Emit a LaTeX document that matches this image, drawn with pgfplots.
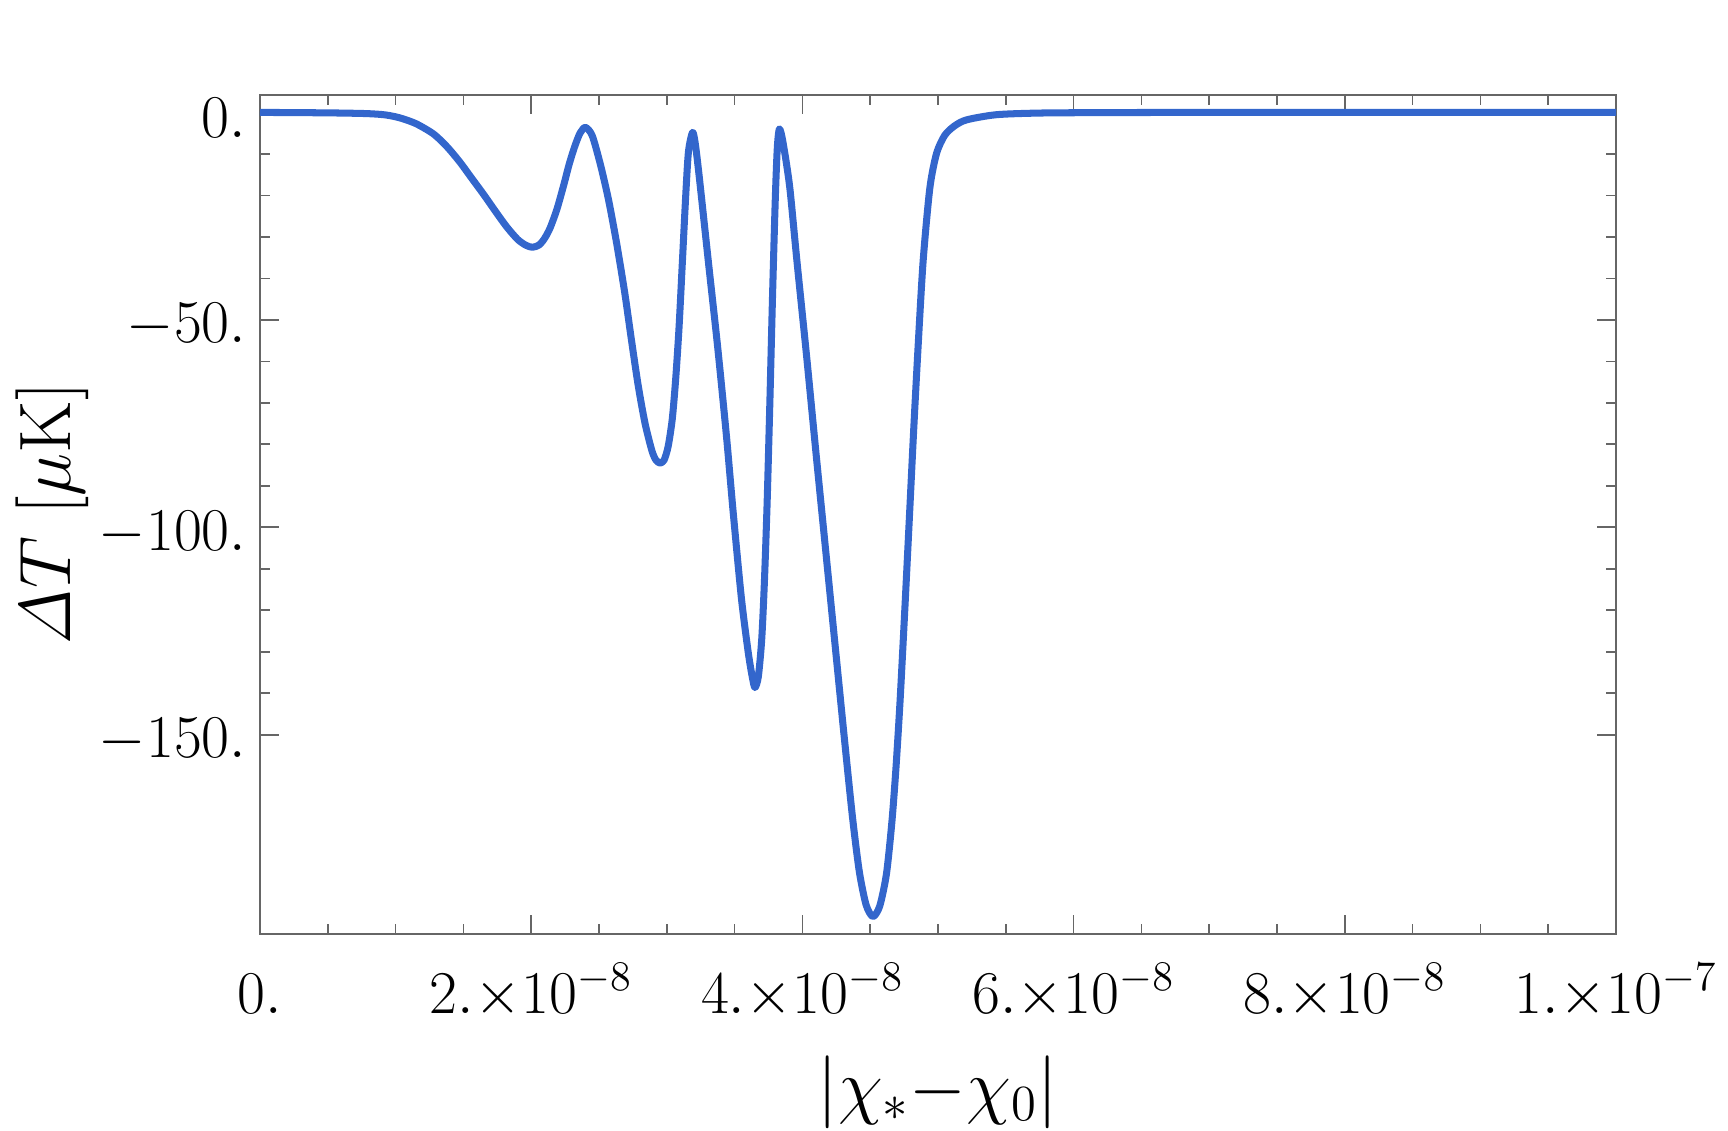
\documentclass[border=0pt]{standalone}
\usepackage{pgfplots}
\pgfplotsset{compat=1.18}

\definecolor{curveblue}{RGB}{51,102,204}
\definecolor{framegray}{RGB}{102,102,102}

\begin{document}
\begin{tikzpicture}
\begin{axis}[
    name=ax,
    scale only axis,
    width=13.56cm, height=8.39cm,
    xmin=0, xmax=1e-7,
    ymin=-198, ymax=4.2,
    axis line style={framegray, line width=0.6pt},
    every tick/.style={framegray, line width=0.5pt},
    tick align=inside,
    major tick length=0.19cm,
    minor tick length=0.10cm,
    scaled x ticks=false,
    xtick={0,2e-8,4e-8,6e-8,8e-8,1e-7},
    xticklabels={$0.$, $2.{\times}10^{-8}$, $4.{\times}10^{-8}$, $6.{\times}10^{-8}$, $8.{\times}10^{-8}$, $1.{\times}10^{-7}$},
    minor x tick num=3,
    ytick={-150,-100,-50,0},
    yticklabels={$-150.$, $-100.$, $-50.$, $0.$},
    minor y tick num=4,
    tick label style={font=\fontsize{16.5}{20}\selectfont},
    xticklabel style={anchor=base, yshift=-0.79cm},
    yticklabel style={anchor=east, inner sep=0pt, xshift=-0.13cm, yshift=-0.06cm},
    every axis x label/.style={at={(axis description cs:0.5,-0.2098)}, anchor=base},
    every axis y label/.style={at={(axis description cs:-0.1401,0.5)}, rotate=90, anchor=base},
    label style={font=\fontsize{21}{25}\selectfont},
    xlabel={$|\chi_*{-}\chi_0|$},
    ylabel={$\mathit{\Delta} T\ [\mu\mathrm{K}]$},
]
\addplot[curveblue, line width=2pt, line join=round, smooth, tension=0.45] coordinates {
    (0, 0) (3e-9, -0.05) (6e-9, -0.15) (8e-9, -0.3) (9.25e-9, -0.6)
    (10.3e-9, -1.3) (11.5e-9, -2.7) (12.8e-9, -5.2) (13.8e-9, -8.3)
    (14.75e-9, -12.0) (15.6e-9, -15.8) (16.5e-9, -19.8) (17.4e-9, -24.0)
    (18.2e-9, -27.6) (19.0e-9, -30.6) (19.6e-9, -32.0) (20.1e-9, -32.5)
    (20.6e-9, -31.9) (21.0e-9, -30.3) (21.4e-9, -27.8) (21.9e-9, -23.3)
    (22.4e-9, -17.5) (22.8e-9, -12.5) (23.2e-9, -8.3) (23.6e-9, -5.0)
    (24.0e-9, -3.6) (24.5e-9, -5.6) (25.1e-9, -12.5) (25.7e-9, -21.0)
    (26.3e-9, -31.5) (26.9e-9, -43.5) (27.4e-9, -55.0) (27.9e-9, -66.0)
    (28.4e-9, -75.0) (28.9e-9, -81.5) (29.2e-9, -83.8) (29.5e-9, -84.5)
    (29.8e-9, -83.8) (30.1e-9, -80.5) (30.4e-9, -74.0) (30.65e-9, -64.5)
    (30.9e-9, -52.0) (31.15e-9, -36.0) (31.4e-9, -19.8) (31.6e-9, -9.4)
    (31.9e-9, -4.8) (32.1e-9, -7.5) (32.4e-9, -15.7) (33.1e-9, -37.0)
    (33.75e-9, -56.5) (34.4e-9, -78.0) (34.9e-9, -96.5) (35.5e-9, -117.0)
    (36.0e-9, -130.0) (36.3e-9, -136.0) (36.5e-9, -138.6) (36.75e-9, -136.0)
    (37.0e-9, -127.0) (37.2e-9, -113.0) (37.4e-9, -94.0) (37.6e-9, -70.0)
    (37.8e-9, -44.0) (38.0e-9, -21.0) (38.15e-9, -8.5) (38.3e-9, -4.0)
    (38.5e-9, -6.0) (38.8e-9, -11.8) (39.1e-9, -19.0) (39.6e-9, -35.9)
    (40.3e-9, -58.4) (41.0e-9, -82.0) (41.7e-9, -105.0) (42.4e-9, -128.0)
    (43.1e-9, -151.0) (43.7e-9, -170.0) (44.2e-9, -183.0) (44.7e-9, -191.0)
    (45.2e-9, -193.8) (45.7e-9, -191.3) (46.2e-9, -183.5) (46.6e-9, -171.0)
    (46.9e-9, -158.0) (47.2e-9, -142.0) (47.55e-9, -120.0) (47.9e-9, -97.0)
    (48.2e-9, -77.0) (48.5e-9, -58.4) (48.9e-9, -36.0) (49.4e-9, -18.2)
    (49.9e-9, -9.8) (50.5e-9, -5.5) (51.2e-9, -3.3) (52.1e-9, -1.8)
    (54.3e-9, -0.55) (57.5e-9, -0.15) (62e-9, -0.05) (70e-9, 0) (100e-9, 0)
};
\end{axis}
\pgfresetboundingbox
\path[use as bounding box] ([shift={(-2.60cm,-1.97cm)}]ax.south west) rectangle ++(17.28cm,11.31cm);
\end{tikzpicture}
\end{document}
